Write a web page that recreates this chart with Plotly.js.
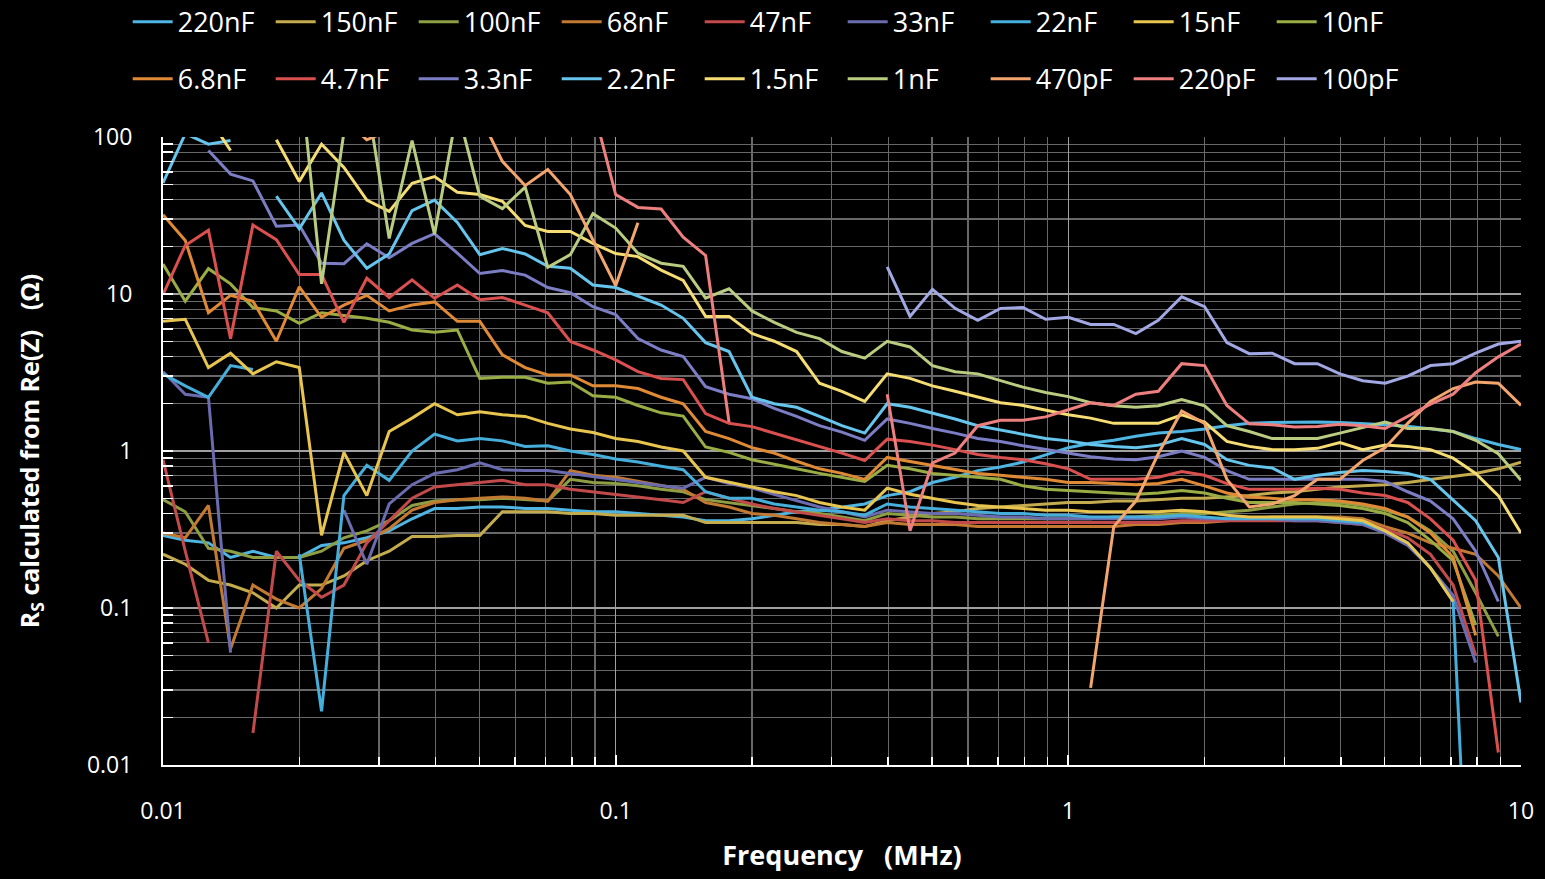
<!DOCTYPE html>
<html><head><meta charset="utf-8">
<script src="https://cdn.plot.ly/plotly-3.0.1.min.js"></script>
<style>html,body{margin:0;padding:0;background:#000;}#chart{width:1545px;height:879px;}</style>
</head><body><div id="chart"></div>
<script>
// Frequency points (MHz), 20 per decade
const freqMHz = [0.01,0.0112,0.0126,0.0141,0.0158,0.0178,0.02,0.0224,0.0251,0.0282,
  0.0316,0.0355,0.0398,0.0447,0.0501,0.0562,0.0631,0.0708,0.0794,0.0891,
  0.1,0.112,0.126,0.141,0.158,0.178,0.2,0.224,0.251,0.282,
  0.316,0.355,0.398,0.447,0.501,0.562,0.631,0.708,0.794,0.891,
  1,1.12,1.26,1.41,1.58,1.78,2,2.24,2.51,2.82,
  3.16,3.55,3.98,4.47,5.01,5.62,6.31,7.08,7.94,8.91,10];

const seriesNames = ["220nF","150nF","100nF","68nF","47nF","33nF","22nF","15nF","10nF",
  "6.8nF","4.7nF","3.3nF","2.2nF","1.5nF","1nF","470pF","220pF","100pF"];
const seriesColors = ["#4FB5E3","#C4AC4E","#8E9E42","#C27A33","#C24A4A","#6B6BB0","#45AEDB","#E8C54E","#9AAD45",
  "#E08A35","#D9504F","#7C7EC5","#66C5EC","#F5DC73","#B9CC80","#F3A56E","#EE7F7F","#A2A8E3"];

const rs220n = [0.29,0.27,0.26,0.21,0.23,0.21,0.21,0.25,0.26,0.28,
  0.31,0.37,0.43,0.43,0.44,0.44,0.43,0.43,0.42,0.41,
  0.41,0.40,0.39,0.38,0.36,0.36,0.37,0.39,0.41,0.42,
  0.44,0.46,0.52,0.55,0.63,0.68,0.75,0.79,0.85,0.95,
  1.05,1.12,1.17,1.24,1.30,1.33,1.38,1.45,1.50,1.52,
  1.53,1.53,1.52,1.50,1.47,1.44,1.39,1.33,1.20,1.10,1.02];
const rs150n = [0.22,0.19,0.15,0.14,0.125,0.10,0.14,0.14,0.16,0.20,
  0.23,0.285,0.285,0.29,0.29,0.41,0.41,0.41,0.40,0.40,
  0.39,0.39,0.39,0.39,0.35,0.35,0.35,0.35,0.35,0.34,
  0.34,0.33,0.36,0.38,0.40,0.41,0.43,0.44,0.45,0.46,
  0.47,0.47,0.48,0.48,0.49,0.50,0.50,0.51,0.52,0.54,
  0.55,0.57,0.59,0.60,0.61,0.63,0.66,0.69,0.72,0.77,0.85];
const rs100n = [0.49,0.41,0.24,0.23,0.21,0.21,0.21,0.23,0.28,0.31,
  0.36,0.45,0.48,0.49,0.49,0.50,0.49,0.48,0.66,0.63,
  0.62,0.60,0.57,0.55,0.49,0.47,0.45,0.43,0.41,0.40,
  0.38,0.36,0.40,0.39,0.38,0.38,0.37,0.37,0.37,0.37,
  0.37,0.37,0.38,0.38,0.39,0.40,0.40,0.41,0.42,0.44,
  0.46,0.47,0.47,0.45,0.42,0.38,0.31,0.23,0.125,0.066,null];
const rs68n = [0.30,0.28,0.45,0.055,0.14,0.114,0.10,0.133,0.24,0.27,
  0.32,0.42,0.47,0.49,0.50,0.51,0.50,0.48,0.75,0.70,
  0.68,0.64,0.60,0.57,0.47,0.44,0.40,0.39,0.37,0.35,
  0.34,0.33,0.35,0.34,0.34,0.34,0.33,0.33,0.33,0.33,
  0.33,0.33,0.33,0.34,0.34,0.35,0.35,0.36,0.37,0.38,
  0.38,0.38,0.38,0.37,0.33,0.30,0.26,0.24,0.22,0.16,0.10];
const rs47n = [0.88,0.23,0.06,null,0.016,0.23,0.15,0.117,0.14,0.26,
  0.36,0.50,0.59,0.61,0.63,0.65,0.61,0.61,0.57,0.55,
  0.53,0.51,0.49,0.47,0.55,0.50,0.46,0.43,0.41,0.39,
  0.37,0.35,0.37,0.36,0.36,0.35,0.35,0.35,0.35,0.35,
  0.35,0.35,0.35,0.35,0.35,0.36,0.36,0.36,0.36,0.36,
  0.36,0.36,0.35,0.34,0.32,0.28,0.22,0.14,0.05,null,null];
const rs33n = [3.2,2.3,2.2,0.052,null,null,null,null,0.42,0.19,
  0.46,0.61,0.72,0.76,0.84,0.76,0.75,0.75,0.72,0.69,
  0.66,0.63,0.60,0.58,0.68,0.62,0.58,0.53,0.48,0.44,
  0.41,0.38,0.42,0.41,0.40,0.40,0.39,0.38,0.38,0.37,
  0.37,0.37,0.37,0.37,0.37,0.38,0.37,0.37,0.37,0.37,
  0.36,0.36,0.35,0.34,0.30,0.25,0.18,0.12,0.045,null,null];
const rs22n = [3.1,2.6,2.2,3.5,3.3,null,0.22,0.022,0.52,0.81,
  0.65,1.0,1.28,1.16,1.2,1.16,1.07,1.08,1.0,0.95,
  0.89,0.85,0.80,0.76,0.55,0.50,0.50,0.46,0.44,0.42,
  0.41,0.39,0.46,0.44,0.43,0.42,0.41,0.40,0.40,0.39,
  0.39,0.38,0.38,0.38,0.38,0.39,0.38,0.37,0.37,0.37,
  0.37,0.37,0.36,0.35,0.31,0.26,0.18,0.11,0.0001,null,null];
const rs15n = [6.7,6.9,3.4,4.2,3.1,3.7,3.4,0.29,0.98,0.52,
  1.33,1.62,2.0,1.7,1.78,1.7,1.66,1.5,1.38,1.31,
  1.2,1.15,1.06,1.0,0.68,0.63,0.59,0.55,0.52,0.47,
  0.44,0.42,0.58,0.53,0.50,0.47,0.45,0.44,0.43,0.42,
  0.42,0.41,0.41,0.41,0.41,0.42,0.41,0.39,0.38,0.38,
  0.38,0.38,0.37,0.36,0.31,0.26,0.18,0.11,null,null,null];
const rs10n = [15.5,9.0,14.5,11.6,8.2,7.8,6.5,7.6,7.3,7.0,
  6.6,5.9,5.7,5.9,2.9,2.95,2.95,2.7,2.75,2.25,
  2.2,1.95,1.75,1.67,1.06,0.98,0.88,0.82,0.77,0.72,
  0.68,0.64,0.81,0.77,0.72,0.70,0.68,0.66,0.60,0.57,
  0.56,0.55,0.54,0.53,0.54,0.56,0.54,0.50,0.47,0.47,
  0.47,0.46,0.45,0.43,0.40,0.35,0.27,0.20,0.078,null,null];
const rs6n8 = [32,21.9,7.6,9.8,9.0,5.0,11.1,7.1,8.5,9.8,
  7.8,8.5,8.9,6.7,6.7,4.1,3.4,3.05,3.05,2.6,
  2.6,2.5,2.2,2.0,1.33,1.2,1.05,0.97,0.86,0.77,
  0.72,0.66,0.91,0.86,0.81,0.77,0.72,0.70,0.68,0.66,
  0.63,0.63,0.62,0.61,0.62,0.66,0.60,0.54,0.51,0.50,
  0.49,0.49,0.48,0.46,0.43,0.38,0.30,0.21,0.067,null,null];
const rs4n7 = [9.9,20.4,25.5,5.2,27.5,22.2,13.3,13.3,6.6,12.6,
  9.5,12.3,9.4,11.4,9.2,9.5,8.5,7.6,4.98,4.4,
  3.8,3.2,2.9,2.85,1.73,1.5,1.43,1.3,1.17,1.07,
  0.97,0.87,1.19,1.15,1.09,1.02,0.95,0.91,0.88,0.83,
  0.77,0.66,0.66,0.66,0.68,0.74,0.70,0.62,0.57,0.57,
  0.57,0.58,0.57,0.54,0.52,0.47,0.37,0.27,0.15,0.012,null];
const rs3n3 = [null,null,82,58,52.5,27,27.5,15.7,15.6,20.9,
  17,21,24.2,18.2,13.5,14.1,13.2,11.0,10.2,8.3,
  7.4,5.2,4.4,4.0,2.57,2.3,2.15,1.87,1.66,1.45,
  1.32,1.17,1.6,1.5,1.39,1.3,1.2,1.15,1.08,1.02,
  0.97,0.92,0.89,0.88,0.92,1.0,0.91,0.75,0.66,0.66,
  0.66,0.66,0.66,0.66,0.64,0.55,0.48,0.37,0.23,0.11,null];
const rs2n2 = [51,105,90,95,null,42,26,44,22,14.6,
  18,34,39.6,28.6,17.8,19.5,18,15,14.6,11.4,
  11.0,9.7,8.5,7.0,4.9,4.3,2.2,2.0,1.9,1.66,
  1.45,1.3,2.0,1.9,1.75,1.6,1.45,1.36,1.28,1.2,
  1.16,1.1,1.07,1.05,1.09,1.2,1.1,0.88,0.81,0.78,
  0.66,0.70,0.73,0.75,0.74,0.72,0.66,0.49,0.36,0.21,0.025];
const rs1n5 = [null,null,134,82,null,96,52,90,64,39.6,
  33.6,50.7,56,44.5,43,39,27.3,25,25,21,
  18.1,17.3,14.2,12.2,7.2,7.2,5.6,5.0,4.3,2.7,
  2.4,2.07,3.1,2.9,2.6,2.4,2.2,2.03,1.95,1.83,
  1.7,1.62,1.5,1.5,1.5,1.7,1.53,1.15,1.07,1.02,
  1.02,1.04,1.13,1.02,1.09,1.07,1.02,0.9,0.72,0.52,0.3];
const rs1n = [null,null,null,null,null,null,290,11.6,107,178,
  22.6,95,24,150,42,35,48,14.8,17.8,32.5,
  26.3,18.2,15.7,15.0,9.4,10.8,7.8,6.6,5.7,5.2,
  4.3,3.9,5.0,4.6,3.5,3.2,3.1,2.8,2.55,2.36,
  2.22,2.03,1.94,1.9,1.94,2.13,1.94,1.45,1.33,1.2,
  1.2,1.2,1.3,1.41,1.53,1.39,1.39,1.33,1.17,0.96,0.65];
const rs470p = [null,null,null,null,null,null,null,null,130,96,
  110,null,null,null,137,70,49,62,43,22,
  11.3,28.4,null,null,null,null,null,null,null,null,
  null,null,null,null,null,null,null,null,null,null,
  null,0.031,0.33,0.48,0.96,1.8,1.5,0.66,0.44,0.46,
  0.52,0.66,0.66,0.87,1.05,1.5,2.07,2.5,2.75,2.7,1.95];
const rs220p = [null,null,null,null,null,null,null,null,null,null,
  null,null,null,null,null,null,null,null,null,155,
  43,35.6,34.8,23,17.6,1.53,null,null,null,null,
  null,null,2.3,0.31,0.84,0.97,1.45,1.57,1.57,1.65,
  1.83,2.03,1.95,2.3,2.4,3.6,3.5,1.95,1.49,1.47,
  1.42,1.43,1.48,1.45,1.39,1.66,1.99,2.3,3.15,3.98,4.8];
const rs100p = [null,null,null,null,null,null,null,null,null,null,
  null,null,null,null,null,null,null,null,null,null,
  null,null,null,null,null,null,null,null,null,null,
  null,null,14.9,7.2,10.7,8.1,6.8,8.1,8.2,6.9,
  7.1,6.4,6.4,5.6,6.8,9.6,8.3,4.9,4.17,4.2,
  3.6,3.6,3.1,2.8,2.7,3.0,3.5,3.6,4.2,4.8,5.0];

const seriesData = [rs220n,rs150n,rs100n,rs68n,rs47n,rs33n,rs22n,rs15n,rs10n,
  rs6n8,rs4n7,rs3n3,rs2n2,rs1n5,rs1n,rs470p,rs220p,rs100p];

const xTickVals = [0.01,0.1,1,10];
const xTickText = ["0.01","0.1","1","10"];
const yTickVals = [0.01,0.1,1,10,100];
const yTickText = ["0.01","0.1","1","10","100"];

function minorVals(d0, d1){
  const out = [];
  for (let d = d0; d < d1; d++) for (let m = 2; m <= 9; m++) out.push(m * Math.pow(10, d));
  return out;
}

const FONT = "'Open Sans', 'DejaVu Sans', sans-serif";

const traces = seriesNames.map((nm, i) => ({
  type: 'scatter', mode: 'lines', name: nm,
  x: freqMHz, y: seriesData[i],
  line: {color: seriesColors[i], width: 3},
  connectgaps: false,
  legend: i < 9 ? 'legend' : 'legend2'
}));

const legendBase = {
  orientation: 'h', xanchor: 'left', yanchor: 'middle',
  x: -0.026, entrywidth: 88, entrywidthmode: 'pixels',
  font: {family: FONT, size: 27, color: '#ffffff'},
  bgcolor: 'rgba(0,0,0,0)', itemwidth: 40, traceorder: 'normal'
};

const layout = {
  width: 1545, height: 879,
  paper_bgcolor: '#000000', plot_bgcolor: '#000000',
  margin: {l: 163, r: 24, t: 137, b: 114, autoexpand: false},
  font: {family: FONT, color: '#ffffff'},
  showlegend: true,
  legend: Object.assign({}, legendBase, {y: 1.183}),
  legend2: Object.assign({}, legendBase, {y: 1.092}),
  xaxis: {
    type: 'log', range: [-2, 1], fixedrange: true,
    tickmode: 'array', tickvals: xTickVals, ticktext: xTickText,
    tickfont: {family: FONT, size: 23, color: '#ffffff'},
    ticks: 'inside', ticklen: 10, tickwidth: 2, tickcolor: '#ffffff',
    ticklabelstandoff: 24,
    showline: true, linecolor: '#ffffff', linewidth: 2,
    showgrid: true, gridcolor: '#a0a0a0', gridwidth: 1.5,
    zeroline: false,
    minor: {tickmode: 'array', tickvals: minorVals(-2, 1), showgrid: true, gridcolor: '#686868', gridwidth: 1.2,
            ticks: 'inside', ticklen: 8, tickwidth: 1.5, tickcolor: '#ffffff'},
    title: {text: '<b>Frequency   (MHz)</b>', font: {family: FONT, size: 27, color: '#ffffff'}, standoff: 22}
  },
  yaxis: {
    type: 'log', range: [-2, 2], fixedrange: true,
    tickmode: 'array', tickvals: yTickVals, ticktext: yTickText,
    tickfont: {family: FONT, size: 23, color: '#ffffff'},
    ticks: 'inside', ticklen: 10, tickwidth: 2, tickcolor: '#ffffff',
    ticklabelstandoff: 24,
    showline: true, linecolor: '#ffffff', linewidth: 2,
    showgrid: true, gridcolor: '#a0a0a0', gridwidth: 1.5,
    zeroline: false,
    minor: {tickmode: 'array', tickvals: minorVals(-2, 2), showgrid: true, gridcolor: '#686868', gridwidth: 1.2,
            ticks: 'inside', ticklen: 10, tickwidth: 1.5, tickcolor: '#ffffff'},
    title: {text: '<b>R<sub>S</sub> calculated from Re(Z)   (Ω)</b>', font: {family: FONT, size: 25, color: '#ffffff'}, standoff: 40}
  }
};

Plotly.newPlot('chart', traces, layout, {displayModeBar: false, staticPlot: true});
</script>
</body></html>
